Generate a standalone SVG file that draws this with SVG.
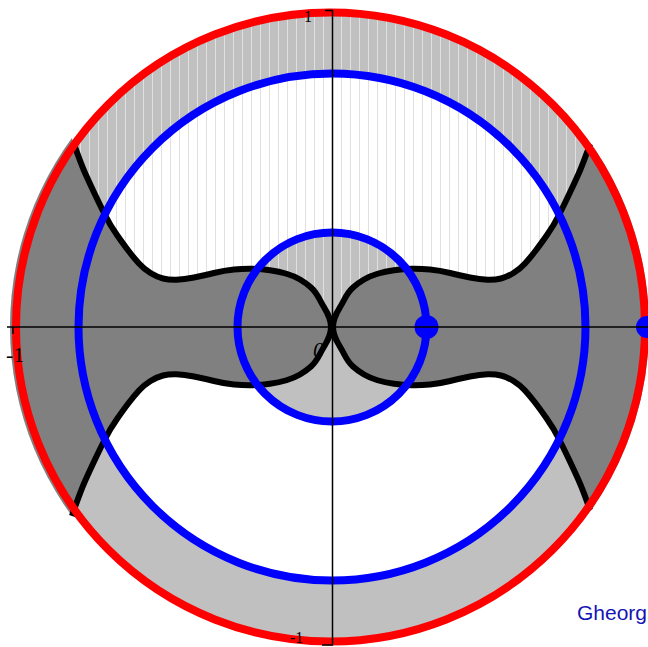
<svg xmlns="http://www.w3.org/2000/svg" width="648" height="647" viewBox="0 0 648 647">
<style>
.curve{fill:none;stroke:#000;stroke-width:6;stroke-linejoin:round;stroke-linecap:butt}
.blue{fill:none;stroke:#0000ff;stroke-width:8}
.axis{stroke:#000;stroke-width:1.5;fill:none}
.lbl{font-family:"Liberation Serif","Times New Roman",serif;fill:#000}
</style>
<defs>
<pattern id="hatch" patternUnits="userSpaceOnUse" x="332" y="0" width="9" height="10">
<rect x="0" y="0" width="1" height="10" fill="#e0e0e0"/>
</pattern>
<clipPath id="disk"><circle cx="330.5" cy="327" r="314.5"/></clipPath>
<clipPath id="lobeclip"><circle cx="329.5" cy="327" r="319.5"/></clipPath>
<path id="rp" d="M 590 144 Q 583 164 578.5 174 Q 574 184 569 194.5 Q 564 205 559 215 Q 554 225 547 235 Q 540 245 535 251.5 Q 530 258 525 263.5 Q 520 269 513.5 273 Q 507 277 501 278.5 Q 495 280 487.5 279.75 Q 480 279.5 470 277.5 Q 460 275.5 450 273 Q 440 270.5 430 269.5 Q 420 268.5 411.5 268.75 Q 403 269 394 270.25 Q 385 271.5 377.5 273.75 Q 370 276 364 279.5 Q 358 283 353 287.5 Q 348 292 343.5 301 C 339 310 333 316 333 327 C 333 338 339 344 343.5 353 Q 348 362 353 366.5 Q 358 371 364 374.5 Q 370 378 377.5 380.25 Q 385 382.5 394 383.75 Q 403 385 411.5 385.25 Q 420 385.5 430 384.5 Q 440 383.5 450 381 Q 460 378.5 470 376.5 Q 480 374.5 487.5 374.25 Q 495 374 501 375.5 Q 507 377 513.5 381 Q 520 385 525 390.5 Q 530 396 535 402.5 Q 540 409 547 419 Q 554 429 559 439 Q 564 449 569 459.5 Q 574 470 578.5 480 Q 583 490 590 510"/>
<path id="lp" d="M 74 144 Q 81 164 85.5 174 Q 90 184 95 194.5 Q 100 205 105 215 Q 110 225 117 235 Q 124 245 129 251.5 Q 134 258 139 263.5 Q 144 269 150.5 273 Q 157 277 163 278.5 Q 169 280 176.5 279.75 Q 184 279.5 194 277.5 Q 204 275.5 214 273 Q 224 270.5 234 269.5 Q 244 268.5 252.5 268.75 Q 261 269 270 270.25 Q 279 271.5 286.5 273.75 Q 294 276 300 279.5 Q 306 283 311 287.5 Q 316 292 320.5 301 C 325 310 331 316 331 327 C 331 338 325 344 320.5 353 Q 316 362 311 366.5 Q 306 371 300 374.5 Q 294 378 286.5 380.25 Q 279 382.5 270 383.75 Q 261 385 252.5 385.25 Q 244 385.5 234 384.5 Q 224 383.5 214 381 Q 204 378.5 194 376.5 Q 184 374.5 176.5 374.25 Q 169 374 163 375.5 Q 157 377 150.5 381 Q 144 385 139 390.5 Q 134 396 129 402.5 Q 124 409 117 419 Q 110 429 105 439 Q 100 449 95 459.5 Q 90 470 85.5 480 Q 81 490 74 510 L 72 516"/>
</defs>
<rect width="648" height="647" fill="#fff"/>
<g id="regions">
<circle cx="330.5" cy="327" r="314.5" fill="#c0c0c0"/>
<circle cx="332" cy="327" r="253.5" fill="#fff"/>
<circle cx="332" cy="327" r="94.5" fill="#c0c0c0"/>
<rect x="0" y="0" width="648" height="327" fill="url(#hatch)" clip-path="url(#disk)"/>
</g>
<g id="lobes" fill="#808080" clip-path="url(#lobeclip)">
<path d="M 590 144 Q 583 164 578.5 174 Q 574 184 569 194.5 Q 564 205 559 215 Q 554 225 547 235 Q 540 245 535 251.5 Q 530 258 525 263.5 Q 520 269 513.5 273 Q 507 277 501 278.5 Q 495 280 487.5 279.75 Q 480 279.5 470 277.5 Q 460 275.5 450 273 Q 440 270.5 430 269.5 Q 420 268.5 411.5 268.75 Q 403 269 394 270.25 Q 385 271.5 377.5 273.75 Q 370 276 364 279.5 Q 358 283 353 287.5 Q 348 292 343.5 301 C 339 310 333 316 333 327 C 333 338 339 344 343.5 353 Q 348 362 353 366.5 Q 358 371 364 374.5 Q 370 378 377.5 380.25 Q 385 382.5 394 383.75 Q 403 385 411.5 385.25 Q 420 385.5 430 384.5 Q 440 383.5 450 381 Q 460 378.5 470 376.5 Q 480 374.5 487.5 374.25 Q 495 374 501 375.5 Q 507 377 513.5 381 Q 520 385 525 390.5 Q 530 396 535 402.5 Q 540 409 547 419 Q 554 429 559 439 Q 564 449 569 459.5 Q 574 470 578.5 480 Q 583 490 590 510 L 596 526 L 700 526 L 700 128 L 596 128 Z"/>
<path d="M 74 144 Q 81 164 85.5 174 Q 90 184 95 194.5 Q 100 205 105 215 Q 110 225 117 235 Q 124 245 129 251.5 Q 134 258 139 263.5 Q 144 269 150.5 273 Q 157 277 163 278.5 Q 169 280 176.5 279.75 Q 184 279.5 194 277.5 Q 204 275.5 214 273 Q 224 270.5 234 269.5 Q 244 268.5 252.5 268.75 Q 261 269 270 270.25 Q 279 271.5 286.5 273.75 Q 294 276 300 279.5 Q 306 283 311 287.5 Q 316 292 320.5 301 C 325 310 331 316 331 327 C 331 338 325 344 320.5 353 Q 316 362 311 366.5 Q 306 371 300 374.5 Q 294 378 286.5 380.25 Q 279 382.5 270 383.75 Q 261 385 252.5 385.25 Q 244 385.5 234 384.5 Q 224 383.5 214 381 Q 204 378.5 194 376.5 Q 184 374.5 176.5 374.25 Q 169 374 163 375.5 Q 157 377 150.5 381 Q 144 385 139 390.5 Q 134 396 129 402.5 Q 124 409 117 419 Q 110 429 105 439 Q 100 449 95 459.5 Q 90 470 85.5 480 Q 81 490 74 510 L 68 526 L -40 526 L -40 128 L 68 128 Z"/>
</g>
<g id="curves">
<use href="#rp" class="curve"/>
<use href="#lp" class="curve"/>
</g>
<g id="unit-circle">
<circle cx="330.5" cy="327" r="314.5" fill="none" stroke="#ff0000" stroke-width="8"/>
</g>
<g id="blue-circles">
<circle class="blue" cx="332" cy="327" r="253.5"/>
<circle class="blue" cx="332" cy="327" r="94.5"/>
<circle cx="426.5" cy="327" r="12" fill="#0000ff"/>
<circle cx="647" cy="327" r="11" fill="#0000ff"/>
</g>
<g id="axes">
<line class="axis" x1="7" y1="327" x2="648" y2="327"/>
<line class="axis" x1="332.5" y1="10" x2="332.5" y2="645"/>
<line class="axis" x1="325" y1="10.5" x2="333" y2="10.5"/>
<line class="axis" x1="322" y1="645" x2="333" y2="645"/>
<line class="axis" x1="13" y1="327" x2="13" y2="334"/>
</g>
<g id="labels">
<text class="lbl" x="304" y="22" font-size="16">1</text>
<text class="lbl" x="6" y="362" font-size="22">-1</text>
<text class="lbl" x="313" y="357" font-size="22" font-style="italic">0</text>
<text class="lbl" x="290" y="643" font-size="16">-1</text>
<text x="577" y="620" font-family="'Liberation Sans',Arial,sans-serif" font-size="21" fill="#1414b4">Gheorg</text>
</g>
</svg>
